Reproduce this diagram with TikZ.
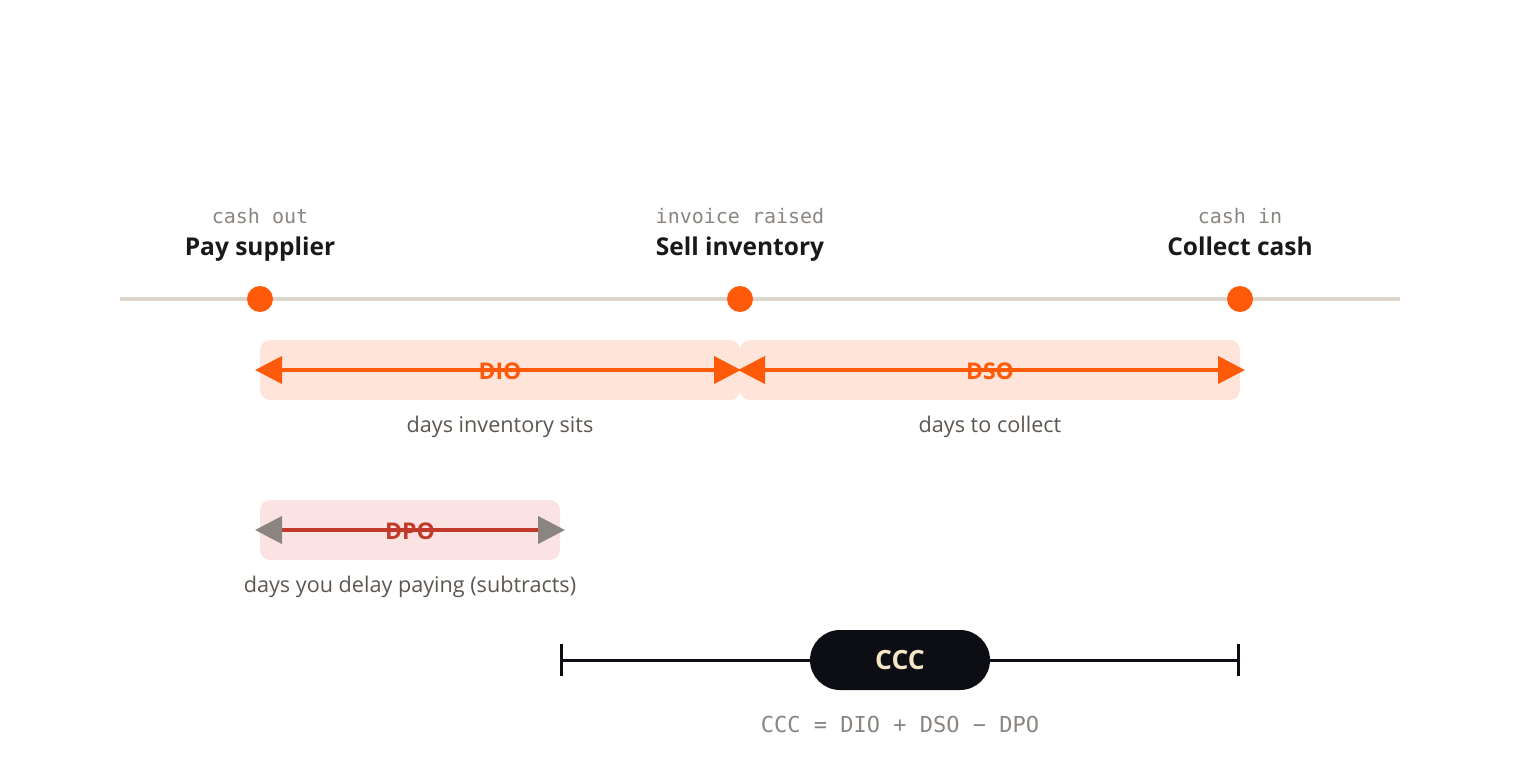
\documentclass[tikz,border=0pt]{standalone}
\usepackage{fontspec}
\setmainfont{Open Sans}
\newfontfamily\monof{DejaVu Sans Mono}
\usetikzlibrary{arrows.meta}
\definecolor{orng}{HTML}{FF5A0A}
\definecolor{track}{HTML}{DCD6CC}
\definecolor{monogray}{HTML}{8A8580}
\definecolor{descgray}{HTML}{5C5650}
\definecolor{peach}{HTML}{FFE5D9}
\definecolor{pinkbg}{HTML}{FBE3E3}
\definecolor{dpored}{HTML}{C0392B}
\definecolor{inkk}{HTML}{0D0D14}
\definecolor{cream}{HTML}{F5E6C8}
\tikzset{
  dot/.style={circle,fill=orng,inner sep=0pt,minimum size=26pt},
  monolbl/.style={font=\monof\fontsize{20}{24}\selectfont,text=monogray,inner sep=0pt,anchor=base},
  evlbl/.style={font=\bfseries\fontsize{24.5}{28}\selectfont,text=black!90,inner sep=0pt,anchor=base},
  band/.style={rounded corners=10pt,inner sep=0pt},
  spanlbl/.style={font=\bfseries\fontsize{23}{27}\selectfont,inner sep=0pt},
  desc/.style={font=\fontsize{21.6}{25}\selectfont,text=descgray,inner sep=0pt},
}
\begin{document}
\begin{tikzpicture}[x=1pt,y=-1pt]
\useasboundingbox (0,0) rectangle (1520,760);
% timeline
\coordinate (tl) at (120,299);
\coordinate (tr) at (1400,299);
\draw[track,line width=4pt] (tl) -- (tr);
\node[dot] (d1) at (260,299) {};
\node[dot] (d2) at (740,299) {};
\node[dot] (d3) at (1240,299) {};
\node[monolbl] (m1) at (260,223) {cash out};
\node[monolbl] (m2) at (740,223) {invoice raised};
\node[monolbl] (m3) at (1240,223) {cash in};
\node[evlbl] (e1) at (260,255) {Pay supplier};
\node[evlbl] (e2) at (740,255) {Sell inventory};
\node[evlbl] (e3) at (1240,255) {Collect cash};
% bands
\fill[peach,band] (260,340) rectangle (740,400);
\fill[peach,band] (740,340) rectangle (1240,400);
\fill[pinkbg,band] (260,500) rectangle (560,560);
% DIO
\coordinate (dioL) at (255,370);
\coordinate (dioR) at (741,370);
\draw[orng,line width=4pt,{Triangle[length=27pt,width=27pt]}-{Triangle[length=27pt,width=27pt]}] (dioL) -- (dioR);
\node[spanlbl,text=orng] (dio) at (500,371) {DIO};
\node[desc] (diod) at (500,427) {days inventory sits};
% DSO
\coordinate (dsoL) at (738,370);
\coordinate (dsoR) at (1245,370);
\draw[orng,line width=4pt,{Triangle[length=27pt,width=27pt]}-{Triangle[length=27pt,width=27pt]}] (dsoL) -- (dsoR);
\node[spanlbl,text=orng] (dso) at (990,371) {DSO};
\node[desc] (dsod) at (990,427) {days to collect};
% DPO
\coordinate (dpoL) at (255,530);
\coordinate (dpoR) at (565,530);
\draw[dpored,line width=4pt,{Triangle[length=27pt,width=27pt,color=monogray]}-{Triangle[length=27pt,width=27pt,color=monogray]}] (dpoL) -- (dpoR);
\node[spanlbl,text=dpored] (dpo) at (410,531) {DPO};
\node[desc] (dpod) at (410,587) {days you delay paying (subtracts)};
% CCC
\coordinate (cL) at (560,660);
\coordinate (cR) at (1240,660);
\draw[inkk,line width=3pt,{Bar[width=32pt,line width=3pt]}-{Bar[width=32pt,line width=3pt]}] (cL) -- (cR);
\node[fill=inkk,rounded corners=30pt,minimum width=180pt,minimum height=60pt,inner sep=0pt,text=cream,font=\bfseries\fontsize{26.5}{30}\selectfont] (ccc) at (900,660) {CCC};
\node[font=\monof\fontsize{22}{26}\selectfont,text=monogray,inner sep=0pt] (form) at (900,724) {CCC = DIO + DSO − DPO};
\end{tikzpicture}
\end{document}
